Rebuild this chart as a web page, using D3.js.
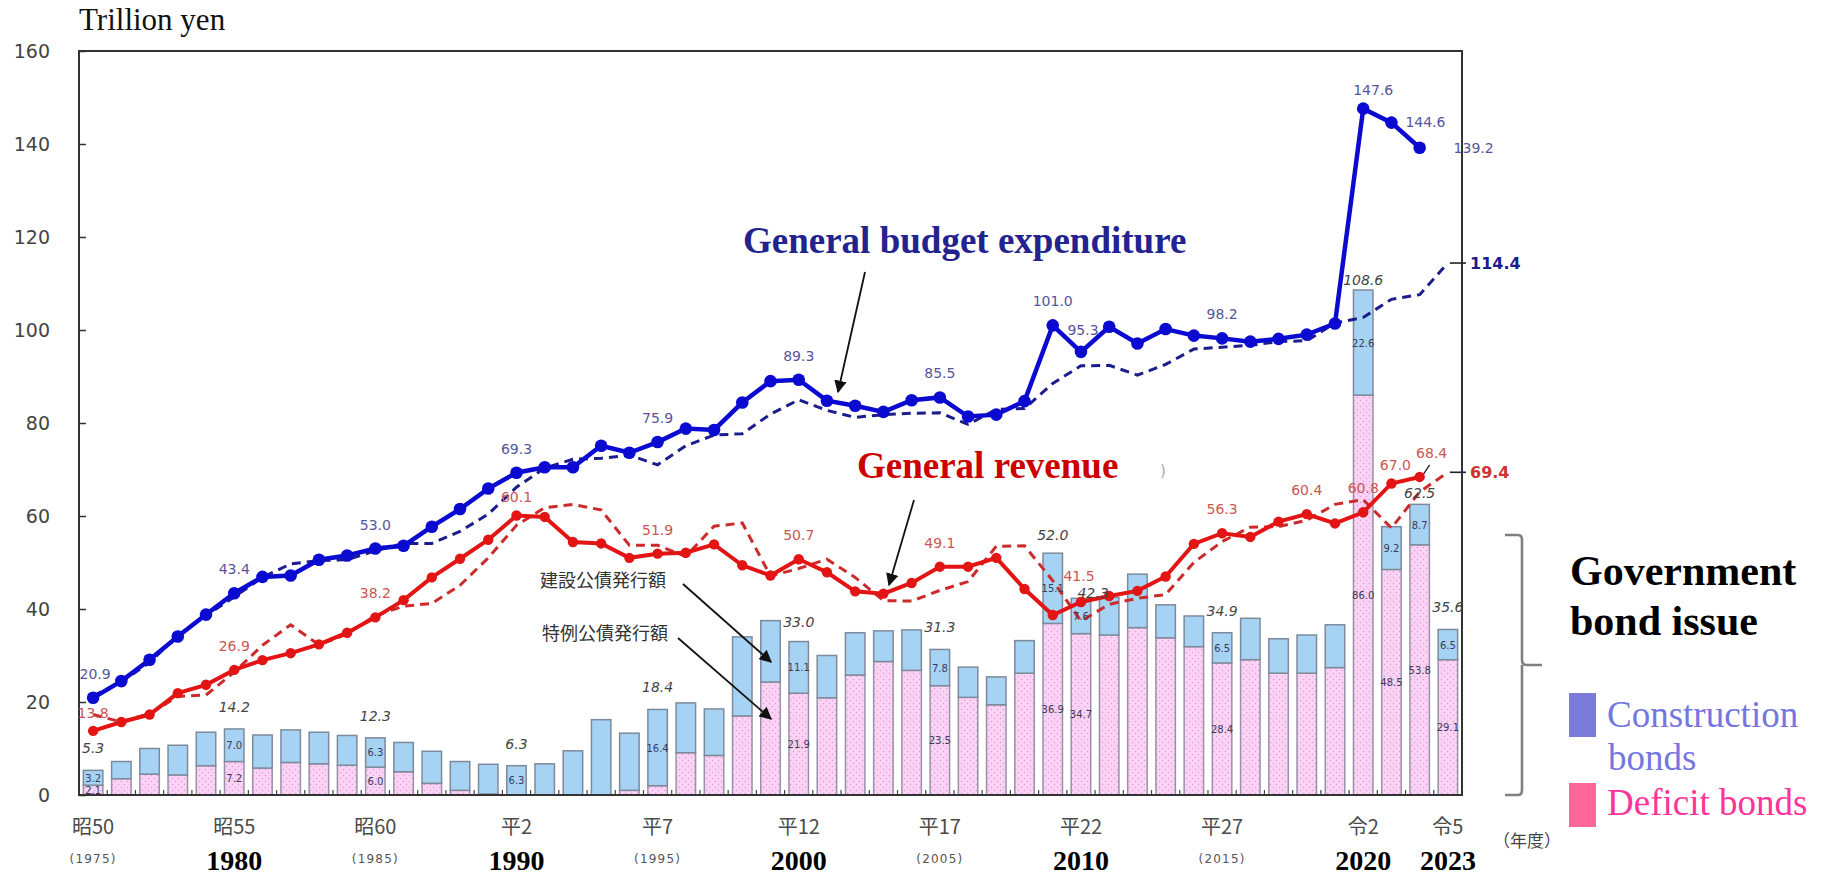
<!DOCTYPE html>
<html>
<head>
<meta charset="utf-8">
<script src="https://cdn.jsdelivr.net/npm/d3@7"></script>
<style>
  html, body { margin: 0; padding: 0; background: #ffffff; }
  svg { display: block; }
</style>
</head>
<body>
<svg id="chart" width="1821" height="878"></svg>
<script>
// Fiscal years (年度)
const years = [1975, 1976, 1977, 1978, 1979, 1980, 1981, 1982, 1983, 1984,
               1985, 1986, 1987, 1988, 1989, 1990, 1991, 1992, 1993, 1994,
               1995, 1996, 1997, 1998, 1999, 2000, 2001, 2002, 2003, 2004,
               2005, 2006, 2007, 2008, 2009, 2010, 2011, 2012, 2013, 2014,
               2015, 2016, 2017, 2018, 2019, 2020, 2021, 2022, 2023];

// General account expenditure, settled (1975–2022), trillion yen
const expenditure = [20.9, 24.5, 29.1, 34.1, 38.8, 43.4, 46.9, 47.2, 50.6, 51.5,
                     53.0, 53.6, 57.7, 61.5, 65.9, 69.3, 70.5, 70.5, 75.1, 73.6,
                     75.9, 78.8, 78.5, 84.4, 89.0, 89.3, 84.8, 83.7, 82.4, 84.9,
                     85.5, 81.4, 81.8, 84.7, 101.0, 95.3, 100.7, 97.1, 100.2, 98.8,
                     98.2, 97.5, 98.1, 99.0, 101.4, 147.6, 144.6, 139.2];

// General account expenditure, initial budget (1975–2023)
const expenditureBudget = [21.3, 24.3, 28.5, 34.3, 38.6, 42.6, 46.8, 49.7, 50.4, 50.6,
                           52.5, 54.1, 54.1, 56.7, 60.4, 66.2, 70.3, 72.2, 72.4, 73.1,
                           71.0, 75.1, 77.4, 77.7, 81.9, 85.0, 82.7, 81.2, 81.8, 82.1,
                           82.2, 79.7, 82.9, 83.1, 88.5, 92.3, 92.4, 90.3, 92.6, 95.9,
                           96.3, 96.7, 97.5, 97.7, 101.5, 102.7, 106.6, 107.6, 114.4];

// Tax revenue, settled (1975–2022)
const taxRevenue = [13.8, 15.7, 17.3, 21.9, 23.7, 26.9, 29.0, 30.5, 32.4, 34.9,
                    38.2, 41.9, 46.8, 50.8, 54.9, 60.1, 59.8, 54.4, 54.1, 51.0,
                    51.9, 52.1, 53.9, 49.4, 47.2, 50.7, 47.9, 43.8, 43.3, 45.6,
                    49.1, 49.1, 51.0, 44.3, 38.7, 41.5, 42.8, 43.9, 47.0, 54.0,
                    56.3, 55.5, 58.8, 60.4, 58.4, 60.8, 67.0, 68.4];

// Tax revenue, initial budget (1975–2023)
const taxRevenueBudget = [17.3, 15.7, 17.5, 21.2, 21.5, 26.4, 32.2, 36.6, 32.3, 34.6,
                          38.6, 40.6, 41.2, 45.1, 51.0, 58.0, 61.8, 62.5, 61.3, 53.7,
                          53.7, 51.3, 57.8, 58.5, 47.1, 48.7, 50.7, 46.8, 41.8, 41.7,
                          44.0, 45.9, 53.5, 53.6, 46.1, 37.4, 41.0, 42.3, 43.1, 50.0,
                          54.5, 57.6, 57.7, 59.1, 62.5, 63.5, 57.4, 65.2, 69.4];

// Government bond issue: construction bonds (建設公債) and deficit bonds (特例公債)
const constructionBonds = [3.2, 3.7, 5.5, 6.4, 7.2, 7.0, 7.1, 7.0, 6.8, 6.4,
                           6.3, 6.3, 6.9, 6.2, 6.4, 6.3, 6.7, 9.5, 16.2, 12.3,
                           16.4, 10.7, 10.0, 17.0, 13.2, 11.1, 9.1, 9.1, 6.6, 8.7,
                           7.8, 6.5, 6.0, 7.0, 15.1, 7.6, 8.1, 11.5, 7.1, 6.6,
                           6.5, 8.9, 7.4, 8.2, 9.2, 22.6, 9.2, 8.7, 6.5];
const deficitBonds = [2.1, 3.5, 4.5, 4.3, 6.3, 7.2, 5.8, 7.0, 6.7, 6.4,
                      6.0, 5.0, 2.5, 1.0, 0.2, 0.0, 0.0, 0.0, 0.0, 1.0,
                      2.0, 9.1, 8.5, 17.0, 24.3, 21.9, 20.9, 25.8, 28.7, 26.8,
                      23.5, 21.0, 19.4, 26.2, 36.9, 34.7, 34.4, 36.0, 33.8, 31.9,
                      28.4, 29.1, 26.2, 26.2, 27.4, 86.0, 48.5, 53.8, 29.1];

// Axis ticks and labels
const yTicks = [0, 20, 40, 60, 80, 100, 120, 140, 160];
const eraTicks = [1975, 1980, 1985, 1990, 1995, 2000, 2005, 2010, 2015, 2020, 2023];
const eraLabels = ["昭50", "昭55", "昭60", "平2", "平7", "平12", "平17", "平22", "平27", "令2", "令5"];
const westernTicks = [1975, 1985, 1995, 2005, 2015];
const boldYearTicks = [1980, 1990, 2000, 2010, 2020, 2023];

// Years that carry value labels
const expLabelYears = [1975, 1980, 1985, 1990, 1995, 2000, 2005, 2009, 2010, 2015, 2020, 2021, 2022];
const revLabelYears = [1975, 1980, 1985, 1990, 1995, 2000, 2005, 2010, 2015, 2018, 2020, 2021, 2022];
const bondTotalLabelYears = [1975, 1980, 1985, 1990, 1995, 2000, 2005, 2009, 2010, 2015, 2020, 2022, 2023];
const bondInnerLabelYears = [1975, 1980, 1985, 1990, 1995, 2000, 2005, 2009, 2010, 2015, 2020, 2021, 2022, 2023];

// ---------------------------------------------------------------------------
const svg = d3.select("#chart");
const plot = { left: 79, right: 1462, top: 51, bottom: 795 };

const x = d3.scaleBand().domain(years).range([plot.left, plot.right])
  .paddingInner(0.31).paddingOuter(0.155);
const cx = yr => x(yr) + x.bandwidth() / 2;
const y = d3.scaleLinear().domain([0, 160]).range([plot.bottom, plot.top]);
const fmt = v => (Math.round(v * 10) / 10).toFixed(1);

const byYear = arr => arr.map((v, i) => ({ year: years[i], v }));
const expSeries = byYear(expenditure);
const expBudgetSeries = byYear(expenditureBudget);
const revSeries = byYear(taxRevenue);
const revBudgetSeries = byYear(taxRevenueBudget);
const bonds = years.map((yr, i) => ({
  year: yr, con: constructionBonds[i], def: deficitBonds[i],
  total: Math.round((constructionBonds[i] + deficitBonds[i]) * 10) / 10
}));
const valueAt = (series, yr) => series.find(d => d.year === yr).v;

// defs: dotted fill for deficit bonds, arrow heads
const defs = svg.append("defs");
const pat = defs.append("pattern").attr("id", "dotFill")
  .attr("width", 6).attr("height", 6).attr("patternUnits", "userSpaceOnUse");
pat.append("rect").attr("width", 6).attr("height", 6).attr("fill", "#fcd2f5");
pat.append("circle").attr("cx", 1.5).attr("cy", 1.5).attr("r", 0.75).attr("fill", "#d79fcf");
pat.append("circle").attr("cx", 4.5).attr("cy", 4.5).attr("r", 0.75).attr("fill", "#d79fcf");

defs.append("marker").attr("id", "arrowHead")
  .attr("viewBox", "0 0 10 10").attr("refX", 9).attr("refY", 5)
  .attr("markerWidth", 7).attr("markerHeight", 7).attr("orient", "auto-start-reverse")
  .append("path").attr("d", "M0,0 L10,5 L0,10 z").attr("fill", "#111");

// Unit label
svg.append("text").attr("x", 79).attr("y", 30)
  .attr("font-family", "'Liberation Serif', 'Times New Roman', serif")
  .attr("font-size", 31).attr("fill", "#111").text("Trillion yen");

// Y axis
const yAxis = d3.axisLeft(y).tickValues(yTicks).tickSize(-7).tickPadding(29);
const yG = svg.append("g").attr("transform", `translate(${plot.left},0)`).call(yAxis);
yG.select(".domain").remove();
yG.selectAll(".tick line").attr("stroke", "#333").attr("stroke-width", 1.5);
yG.selectAll(".tick text").attr("font-family", "'DejaVu Sans', Verdana, sans-serif")
  .attr("font-size", 19).attr("fill", "#444");

// X axis: era labels
const eraAxis = d3.axisBottom(x).tickValues(eraTicks)
  .tickFormat(yr => eraLabels[eraTicks.indexOf(yr)]).tickSize(0).tickPadding(25);
const xG = svg.append("g").attr("transform", `translate(0,${plot.bottom})`).call(eraAxis);
xG.select(".domain").remove();
xG.selectAll(".tick text").attr("font-family", "'Noto Sans CJK JP', sans-serif")
  .attr("font-size", 20).attr("fill", "#4a4a4a");

// small tick marks between bars
svg.append("g").selectAll("line").data(years.slice(1)).join("line")
  .attr("x1", yr => x(yr) - x.step() * 0.155).attr("x2", yr => x(yr) - x.step() * 0.155)
  .attr("y1", plot.bottom).attr("y2", plot.bottom - 5)
  .attr("stroke", "#444").attr("stroke-width", 1.2);

svg.append("g").selectAll("text").data(westernTicks).join("text")
  .attr("x", cx).attr("y", 863).attr("text-anchor", "middle")
  .attr("font-family", "'DejaVu Sans', sans-serif").attr("font-size", 12)
  .attr("letter-spacing", 1.2).attr("fill", "#555").text(yr => `(${yr})`);

svg.append("g").selectAll("text").data(boldYearTicks).join("text")
  .attr("x", cx).attr("y", 870).attr("text-anchor", "middle")
  .attr("font-family", "'Liberation Serif', 'Times New Roman', serif")
  .attr("font-weight", "bold").attr("font-size", 28).attr("fill", "#000").text(yr => yr);

svg.append("text").attr("x", 1493).attr("y", 847)
  .attr("font-family", "'Noto Sans CJK JP', sans-serif").attr("font-size", 17)
  .attr("fill", "#444").text("（年度）");

// Stacked bond bars
const barG = svg.append("g");
barG.selectAll("rect.def").data(bonds.filter(d => d.def > 0)).join("rect")
  .attr("class", "def")
  .attr("x", d => x(d.year)).attr("width", x.bandwidth())
  .attr("y", d => y(d.def)).attr("height", d => y(0) - y(d.def))
  .attr("fill", "url(#dotFill)").attr("stroke", "#9a90a8").attr("stroke-width", 1.5);
barG.selectAll("rect.con").data(bonds).join("rect")
  .attr("class", "con")
  .attr("x", d => x(d.year)).attr("width", x.bandwidth())
  .attr("y", d => y(d.total)).attr("height", d => y(d.def) - y(d.total))
  .attr("fill", "#a6d3f3").attr("stroke", "#7d8a9c").attr("stroke-width", 1.5);

// Frame
svg.append("rect").attr("x", plot.left).attr("y", plot.top)
  .attr("width", plot.right - plot.left).attr("height", plot.bottom - plot.top)
  .attr("fill", "none").attr("stroke", "#333").attr("stroke-width", 2);

// Lines
const line = d3.line().x(d => cx(d.year)).y(d => y(d.v));

svg.append("path").datum(revBudgetSeries).attr("d", line)
  .attr("fill", "none").attr("stroke", "#cc2b2b").attr("stroke-width", 3)
  .attr("stroke-dasharray", "9,6");
svg.append("path").datum(expBudgetSeries).attr("d", line)
  .attr("fill", "none").attr("stroke", "#1c1c8c").attr("stroke-width", 3)
  .attr("stroke-dasharray", "9,6");

svg.append("path").datum(revSeries).attr("d", line)
  .attr("fill", "none").attr("stroke", "#e31414").attr("stroke-width", 4);
svg.append("g").selectAll("circle").data(revSeries).join("circle")
  .attr("cx", d => cx(d.year)).attr("cy", d => y(d.v)).attr("r", 5.2).attr("fill", "#e31414");

svg.append("path").datum(expSeries).attr("d", line)
  .attr("fill", "none").attr("stroke", "#0a0ad0").attr("stroke-width", 4.5);
svg.append("g").selectAll("circle").data(expSeries).join("circle")
  .attr("cx", d => cx(d.year)).attr("cy", d => y(d.v)).attr("r", 6.3).attr("fill", "#0a0ad0");

// Right-end budget values with leaders
const lastYear = years[years.length - 1];
[[expenditureBudget, "#1c1c8c"], [taxRevenueBudget, "#cc3333"]].forEach(([arr, col]) => {
  const v = arr[arr.length - 1];
  svg.append("line").attr("x1", cx(lastYear) + 2).attr("x2", plot.right + 4)
    .attr("y1", y(v)).attr("y2", y(v)).attr("stroke", "#222").attr("stroke-width", 1.6);
  svg.append("text").attr("x", plot.right + 8).attr("y", y(v) + 6)
    .attr("font-family", "'DejaVu Sans', Verdana, sans-serif").attr("font-weight", "bold")
    .attr("font-size", 16).attr("fill", col).text(fmt(v));
});

// Value labels
const labelFont = "'DejaVu Sans', Verdana, sans-serif";
const expNudge = { 1975: [2, -19], 2010: [2, -17], 2020: [10, -14], 2021: [34, 4], 2022: [54, 5] };
svg.append("g").selectAll("text").data(expLabelYears).join("text")
  .attr("x", yr => cx(yr) + (expNudge[yr] ? expNudge[yr][0] : 0))
  .attr("y", yr => y(valueAt(expSeries, yr)) + (expNudge[yr] ? expNudge[yr][1] : -19))
  .attr("text-anchor", "middle").attr("font-family", labelFont).attr("font-size", 14)
  .attr("fill", "#55559c").text(yr => fmt(valueAt(expSeries, yr)));

const revNudge = { 1975: [0, -13], 1990: [0, -14], 2010: [-2, -21], 2021: [4, -13], 2022: [12, -19] };
svg.append("g").selectAll("text").data(revLabelYears).join("text")
  .attr("x", yr => cx(yr) + (revNudge[yr] ? revNudge[yr][0] : 0))
  .attr("y", yr => y(valueAt(revSeries, yr)) + (revNudge[yr] ? revNudge[yr][1] : -19))
  .attr("text-anchor", "middle").attr("font-family", labelFont).attr("font-size", 14)
  .attr("fill", "#cc5555").text(yr => fmt(valueAt(revSeries, yr)));

// leader from the 2022 revenue label to its point
svg.append("line")
  .attr("x1", cx(2022) + 4).attr("y1", y(valueAt(revSeries, 2022)) - 3)
  .attr("x2", cx(2022) + 10).attr("y2", y(valueAt(revSeries, 2022)) - 12)
  .attr("stroke", "#222").attr("stroke-width", 1.3);

const bondNudge = { 2000: [0, -15], 2009: [0, -13], 2010: [12, 0], 2020: [0, -5], 2022: [0, -6] };
svg.append("g").selectAll("text").data(bondTotalLabelYears).join("text")
  .attr("x", yr => cx(yr) + (bondNudge[yr] ? bondNudge[yr][0] : 0))
  .attr("y", yr => y(bonds.find(d => d.year === yr).total) + (bondNudge[yr] ? bondNudge[yr][1] : -17))
  .attr("text-anchor", "middle").attr("font-family", labelFont).attr("font-style", "italic")
  .attr("font-size", 14).attr("fill", "#444").text(yr => fmt(bonds.find(d => d.year === yr).total));

// small values inside the bar segments
const innerG = svg.append("g").attr("font-family", labelFont).attr("font-size", 10)
  .attr("fill", "#3a3a5c").attr("text-anchor", "middle");
bondInnerLabelYears.forEach(yr => {
  const b = bonds.find(d => d.year === yr);
  innerG.append("text").attr("x", cx(yr)).attr("y", (y(b.total) + y(b.def)) / 2 + 4).text(fmt(b.con));
  if (b.def >= 2.1) {
    innerG.append("text").attr("x", cx(yr)).attr("y", (y(b.def) + y(0)) / 2 + 4).text(fmt(b.def));
  }
});

// Series titles and pointers
svg.append("text").attr("x", 743).attr("y", 253)
  .attr("font-family", "'Liberation Serif', 'Times New Roman', serif").attr("font-weight", "bold")
  .attr("font-size", 37).attr("fill", "#23238f").text("General budget expenditure");
svg.append("line").attr("x1", 865).attr("y1", 272).attr("x2", 838).attr("y2", 392)
  .attr("stroke", "#111").attr("stroke-width", 1.8).attr("marker-end", "url(#arrowHead)");

svg.append("text").attr("x", 857).attr("y", 478)
  .attr("font-family", "'Liberation Serif', 'Times New Roman', serif").attr("font-weight", "bold")
  .attr("font-size", 37).attr("fill", "#cc0000").text("General revenue");
svg.append("text").attr("x", 1160).attr("y", 476)
  .attr("font-family", labelFont).attr("font-size", 15).attr("fill", "#aaa").text(")");
svg.append("line").attr("x1", 914).attr("y1", 500).attr("x2", 889).attr("y2", 585)
  .attr("stroke", "#111").attr("stroke-width", 1.8).attr("marker-end", "url(#arrowHead)");

// Japanese notes for bond types
const jpFont = "'Noto Sans CJK JP', sans-serif";
svg.append("text").attr("x", 540).attr("y", 587).attr("font-family", jpFont)
  .attr("font-size", 18).attr("fill", "#333").text("建設公債発行額");
svg.append("text").attr("x", 542).attr("y", 640).attr("font-family", jpFont)
  .attr("font-size", 18).attr("fill", "#333").text("特例公債発行額");
svg.append("line").attr("x1", 683).attr("y1", 584).attr("x2", 771).attr("y2", 662)
  .attr("stroke", "#111").attr("stroke-width", 1.8).attr("marker-end", "url(#arrowHead)");
svg.append("line").attr("x1", 678).attr("y1", 638).attr("x2", 771).attr("y2", 719)
  .attr("stroke", "#111").attr("stroke-width", 1.8).attr("marker-end", "url(#arrowHead)");

// Bracket and legend for the bond bars
svg.append("path")
  .attr("d", "M1505,535 L1518,535 Q1522,535 1522,540 L1522,660 Q1522,665 1527,665 L1542,665 " +
             "M1522,665 Q1522,665 1522,670 L1522,790 Q1522,795 1518,795 L1505,795")
  .attr("fill", "none").attr("stroke", "#808080").attr("stroke-width", 2.6);

const serif = "'Liberation Serif', 'Times New Roman', serif";
svg.append("text").attr("x", 1570).attr("y", 585).attr("font-family", serif)
  .attr("font-weight", "bold").attr("font-size", 42).attr("fill", "#000").text("Government");
svg.append("text").attr("x", 1570).attr("y", 635).attr("font-family", serif)
  .attr("font-weight", "bold").attr("font-size", 42).attr("fill", "#000").text("bond issue");

svg.append("rect").attr("x", 1569).attr("y", 693).attr("width", 27).attr("height", 44).attr("fill", "#7b7bdc");
svg.append("text").attr("x", 1607).attr("y", 727).attr("font-family", serif)
  .attr("font-size", 37).attr("fill", "#7676e0").text("Construction");
svg.append("text").attr("x", 1608).attr("y", 770).attr("font-family", serif)
  .attr("font-size", 37).attr("fill", "#7676e0").text("bonds");
svg.append("rect").attr("x", 1569).attr("y", 783).attr("width", 27).attr("height", 44).attr("fill", "#ff6699");
svg.append("text").attr("x", 1607).attr("y", 815).attr("font-family", serif)
  .attr("font-size", 37).attr("fill", "#ff3399").text("Deficit bonds");
</script>
</body>
</html>
